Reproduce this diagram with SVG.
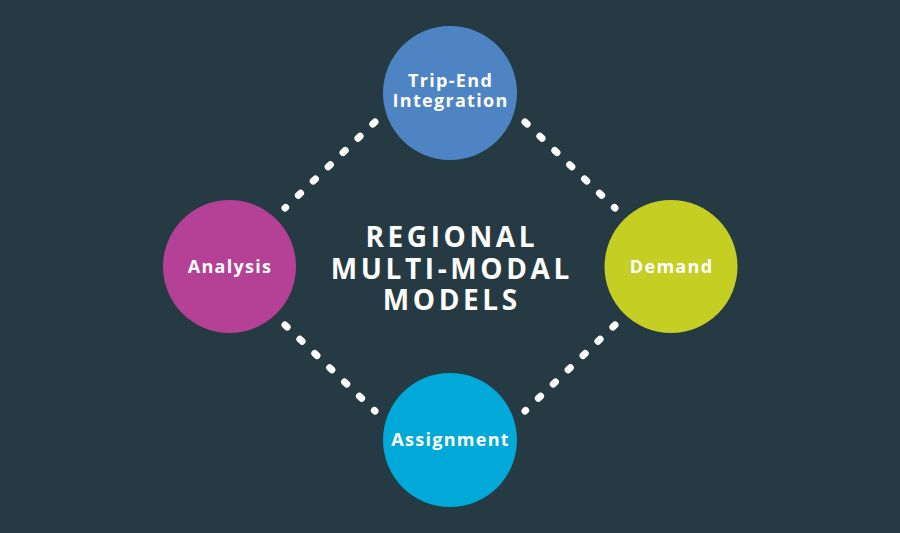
<svg xmlns="http://www.w3.org/2000/svg" width="900" height="533" viewBox="0 0 900 533">
<style>
.lbl{font-family:"Open Sans","Liberation Sans",sans-serif;font-weight:700;font-size:18px;fill:#fff;text-anchor:middle;letter-spacing:1.3px}
.ttl{font-family:"Open Sans","Liberation Sans",sans-serif;font-weight:700;font-size:28px;fill:#fff;text-anchor:middle;letter-spacing:3.6px}
.dot{stroke:#fff;stroke-width:7;stroke-linecap:round;stroke-dasharray:3 17.6;fill:none}
</style>
<rect width="900" height="533" fill="#263a43"/>
<g id="connectors">
<line class="dot" x1="375" y1="122" x2="285" y2="208"/>
<line class="dot" x1="525" y1="122" x2="615" y2="208"/>
<line class="dot" x1="285" y1="325" x2="375" y2="411"/>
<line class="dot" x1="615" y1="325" x2="525" y2="411"/>
</g>
<g id="title">
<text class="ttl" x="451.8" y="247">REGIONAL</text>
<text class="ttl" x="451.8" y="279">MULTI-MODAL</text>
<text class="ttl" x="451.8" y="310">MODELS</text>
</g>
<g id="trip-end">
<circle cx="450" cy="93" r="67" fill="#4f84c4"/>
<text class="lbl" x="450.6" y="87">Trip-End</text>
<text class="lbl" x="450.6" y="107">Integration</text>
</g>
<g id="analysis">
<circle cx="229.5" cy="266.5" r="66.5" fill="#b44196"/>
<text class="lbl" x="230" y="273">Analysis</text>
</g>
<g id="demand">
<circle cx="671" cy="266.5" r="66.5" fill="#c5cf23"/>
<text class="lbl" x="671.6" y="273">Demand</text>
</g>
<g id="assignment">
<circle cx="450" cy="440" r="67" fill="#00a9d8"/>
<text class="lbl" x="450.6" y="446">Assignment</text>
</g>
</svg>
